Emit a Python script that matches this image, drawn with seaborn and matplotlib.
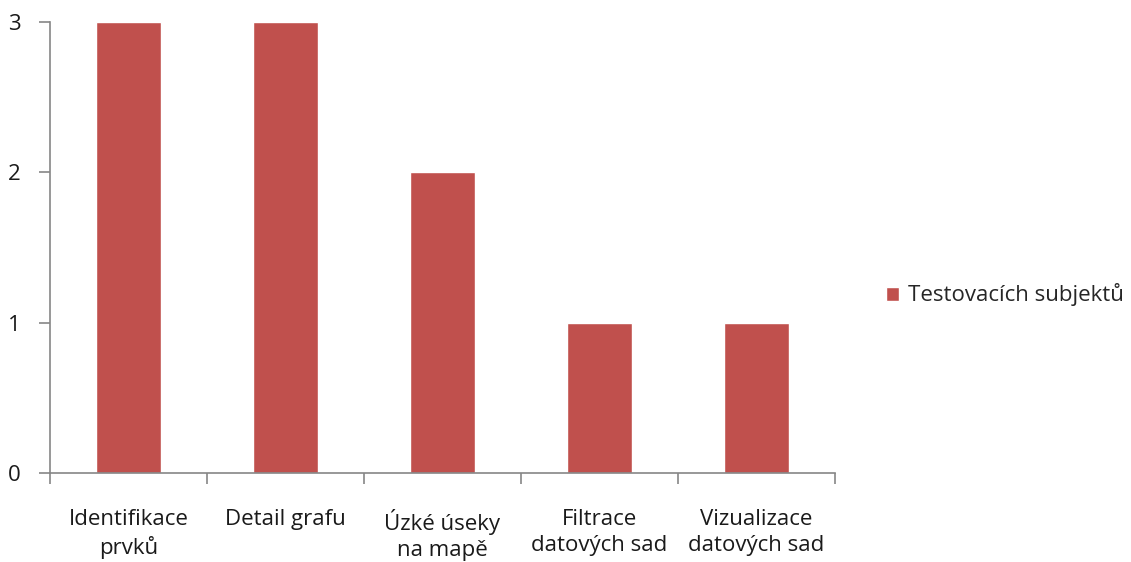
import matplotlib.pyplot as plt
import seaborn as sns
import numpy as np
import pandas as pd

categories = ["Identifikace\nprvků", "Detail grafu", "Úzké úseky\nna mapě",
              "Filtrace\ndatových sad", "Vizualizace\ndatových sad"]
values = [3, 3, 2, 1, 1]
series_name = "Testovacích subjektů"

sns.set_style("white")
plt.rcParams['font.family'] = ['Open Sans', 'DejaVu Sans']

df = pd.DataFrame({"kategorie": categories, "pocet": values})

fig = plt.figure(figsize=(11.31, 5.62), dpi=100)
ax = fig.add_axes([50 / 1131, 89 / 562, 785 / 1131, 451 / 562])

sns.barplot(data=df, x="kategorie", y="pocet", color="#C0504D", width=0.41,
            saturation=1, ax=ax, label=series_name)

ax.set_xlim(-0.5, len(categories) - 0.5)
ax.set_ylim(0, 3)
ax.set_yticks([0, 1, 2, 3])
ax.set_xlabel("")
ax.set_ylabel("")

fs = 16

# ticks mezi kategoriemi jako v Excelu
ax.set_xticks(np.arange(-0.5, len(categories), 1.0), minor=True)
ax.tick_params(axis="x", which="minor", length=8, width=1.2, color="#868686", direction="out")
ax.tick_params(axis="x", which="major", length=0, pad=26, labelsize=fs, labelcolor="#1a1a1a")
ax.tick_params(axis="y", which="major", length=8, width=1.2, color="#868686",
               direction="out", pad=13, labelsize=fs, labelcolor="#1a1a1a")
ax.tick_params(bottom=True, left=True, which="both")

for lbl in ax.get_xticklabels():
    lbl.set_linespacing(1.3)

sns.despine(ax=ax)
for s in ["left", "bottom"]:
    ax.spines[s].set_color("#868686")
    ax.spines[s].set_linewidth(1.2)

ax.legend(loc="center left", bbox_to_anchor=(866 / 1131, 1 - 295 / 562),
          bbox_transform=fig.transFigure, frameon=False, fontsize=fs,
          handlelength=0.6, handleheight=0.6, handletextpad=0.4)

fig.savefig("out.png", dpi=100)
